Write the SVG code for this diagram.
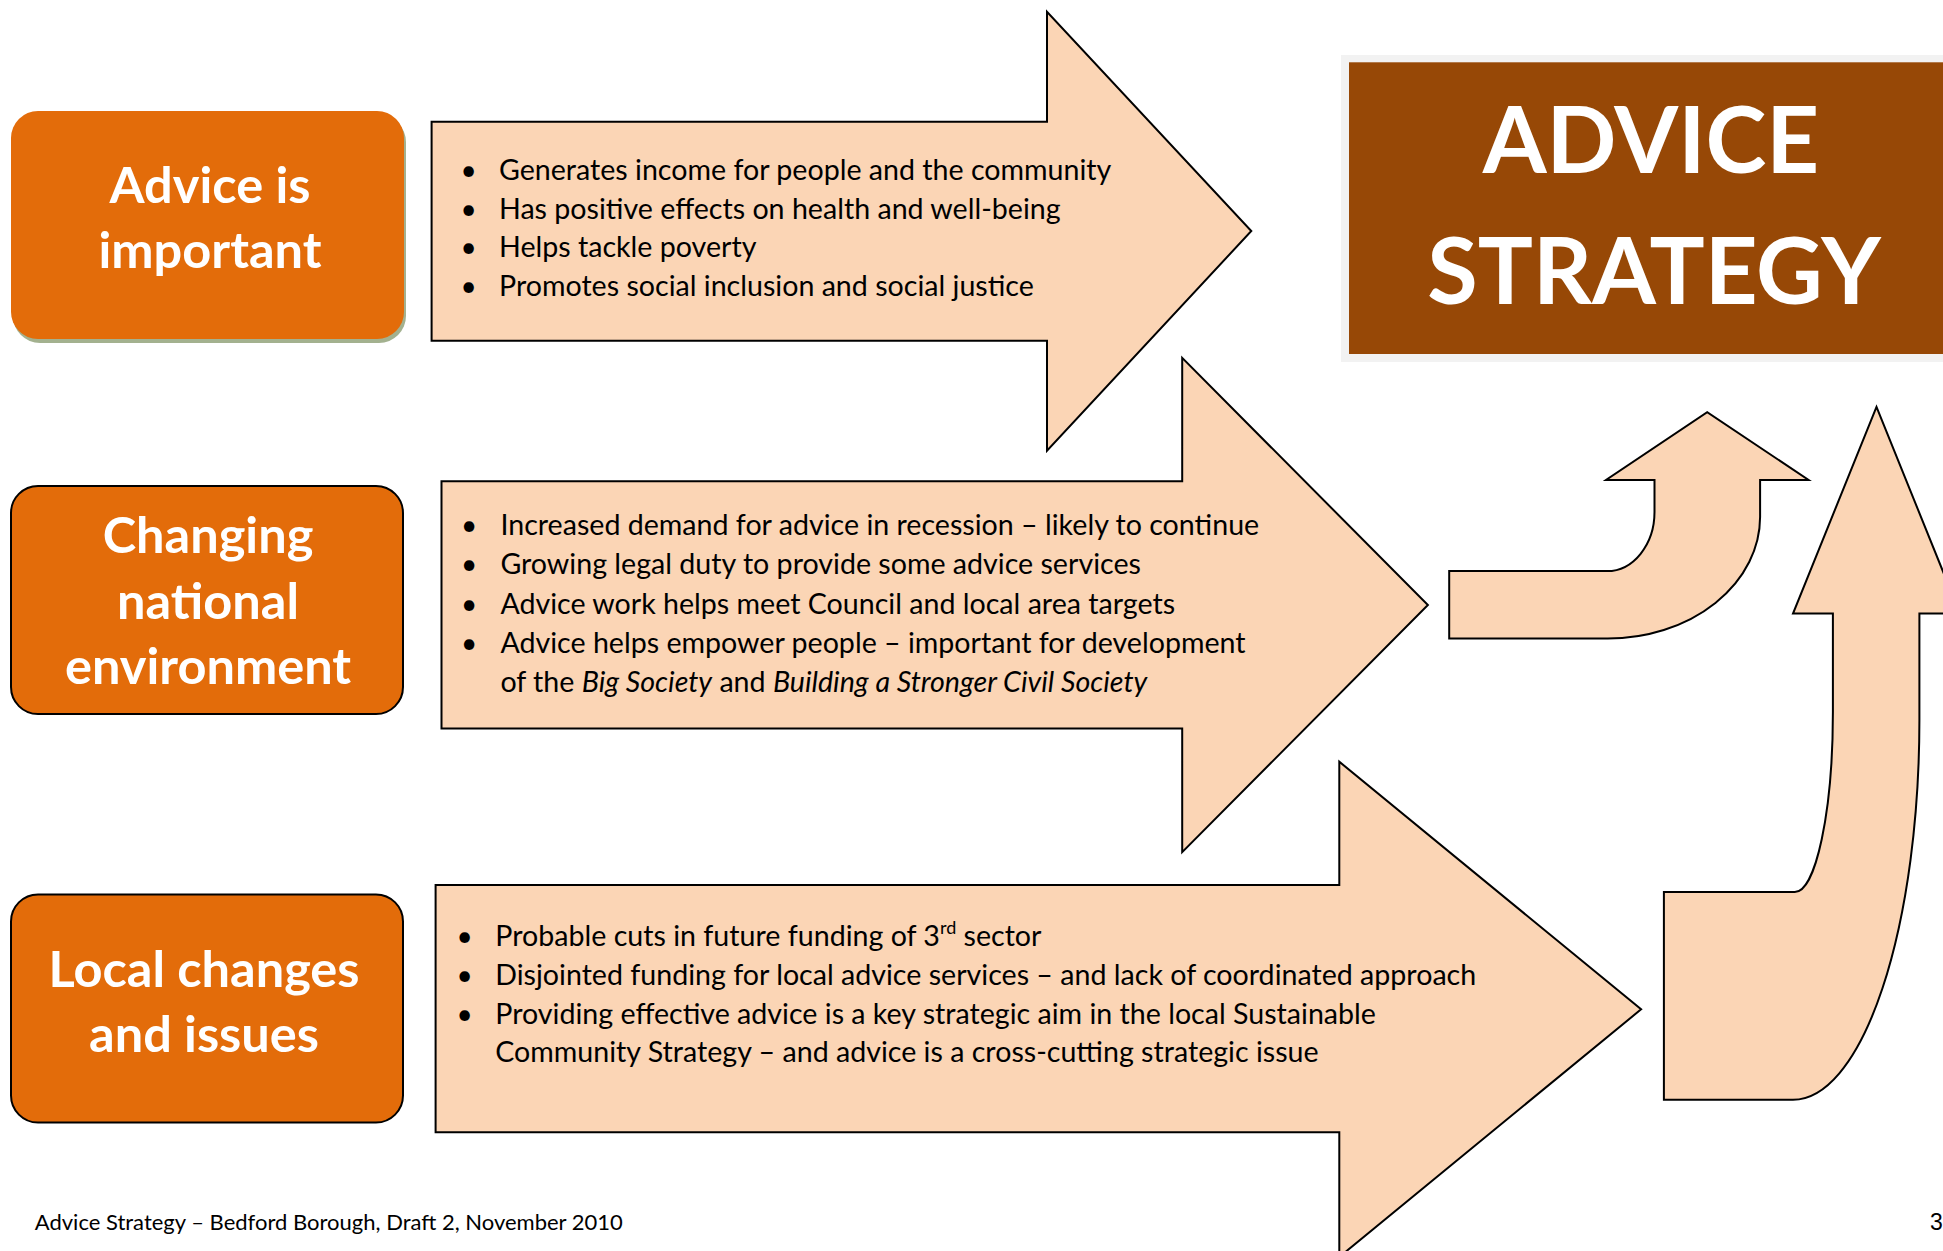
<svg xmlns="http://www.w3.org/2000/svg" width="1943" height="1251" viewBox="0 0 1943 1251">
  <style>
    .box { fill: #E36C0A; }
    .boxs { stroke: #000; stroke-width: 2; }
    .boxt { font-family: Lato, "Liberation Sans", sans-serif; font-weight: bold; font-size: 50.5px; fill: #fff; text-anchor: middle; }
    .arrow { fill: #FBD5B5; stroke: #000; stroke-width: 2; stroke-linejoin: miter; }
    .body { font-family: Lato, "Liberation Sans", sans-serif; font-size: 28.6px; fill: #000; }
    .bul { font-family: Lato, "Liberation Sans", sans-serif; font-size: 28px; fill: #000; text-anchor: middle; }
    .title { font-family: Lato, "Liberation Sans", sans-serif; font-weight: bold; font-size: 92px; fill: #fff; text-anchor: middle; }
    .foot { font-family: Lato, "Liberation Sans", sans-serif; font-size: 22px; fill: #000; }
  </style>
  <rect width="1943" height="1251" fill="#fff"/>

  <g id="connectors">
    <path id="arrow1" class="arrow" d="M431.6,121.7 H1047 V11.7 L1251.3,231 L1047,450.7 V340.7 H431.6 Z"/>
    <path id="arrow2" class="arrow" d="M441.5,481.2 H1182.2 V357.9 L1427.9,605 L1182.2,852.1 V728.5 H441.5 Z"/>
    <path id="arrow3" class="arrow" d="M435.6,885 H1339.3 V761.7 L1641.1,1009.3 L1339.3,1257 V1132.3 H435.6 Z"/>
    <path id="bent-small" class="arrow" d="M1449.2,571.1 H1607 A47.5,59 0 0 0 1654.5,512 V480 H1606 L1707.2,412.1 L1808.6,480 H1760.1 V517 A152.4,121.8 0 0 1 1607.8,638.6 H1449.2 Z"/>
    <path id="bent-large" class="arrow" d="M1663.9,892 H1794.8 A38.1,180 0 0 0 1832.9,712 V613.6 H1793 L1876.5,406.9 L1960,613.6 H1919.4 V720 A126.4,379.7 0 0 1 1793,1099.7 H1663.9 Z"/>
  </g>

  <g id="arrow1-text">
    <text class="bul" x="468.5" y="180">•</text>
    <text class="bul" x="468.5" y="218.7">•</text>
    <text class="bul" x="468.5" y="257.3">•</text>
    <text class="bul" x="468.5" y="296">•</text>
    <text class="body" x="499" y="180">Generates income for people and the community</text>
    <text class="body" x="499" y="218.7">Has positive effects on health and well-being</text>
    <text class="body" x="499" y="257.3">Helps tackle poverty</text>
    <text class="body" x="499" y="296">Promotes social inclusion and social justice</text>
  </g>

  <g id="arrow2-text">
    <text class="bul" x="469" y="534.6">•</text>
    <text class="bul" x="469" y="574">•</text>
    <text class="bul" x="469" y="613.5">•</text>
    <text class="bul" x="469" y="652.7">•</text>
    <text class="body" x="500.4" y="534.6">Increased demand for advice in recession – likely to continue</text>
    <text class="body" x="500.4" y="574">Growing legal duty to provide some advice services</text>
    <text class="body" x="500.4" y="613.5">Advice work helps meet Council and local area targets</text>
    <text class="body" x="500.4" y="652.7">Advice helps empower people – important for development</text>
    <text class="body" x="500.4" y="691.5">of the <tspan font-style="italic">Big Society</tspan> and <tspan font-style="italic">Building a Stronger Civil Society</tspan></text>
  </g>

  <g id="arrow3-text">
    <text class="bul" x="464.7" y="946">•</text>
    <text class="bul" x="464.7" y="985">•</text>
    <text class="bul" x="464.7" y="1024">•</text>
    <text class="body" x="495.3" y="946">Probable cuts in future funding of 3<tspan font-size="18" dy="-12">rd</tspan><tspan dy="12"> sector</tspan></text>
    <text class="body" x="495.3" y="985">Disjointed funding for local advice services – and lack of coordinated approach</text>
    <text class="body" x="495.3" y="1024">Providing effective advice is a key strategic aim in the local Sustainable</text>
    <text class="body" x="495.3" y="1062">Community Strategy – and advice is a cross-cutting strategic issue</text>
  </g>

  <g id="box1">
    <rect x="13" y="115" width="393" height="228" rx="27" fill="#A3B18F"/>
    <rect class="box" x="11" y="111" width="393" height="228" rx="27"/>
    <text class="boxt" x="210" y="203">Advice is</text>
    <text class="boxt" x="210" y="268">important</text>
  </g>

  <g id="box2">
    <rect class="box boxs" x="11" y="486" width="392" height="228" rx="27"/>
    <text class="boxt" x="208" y="553.3">Changing</text>
    <text class="boxt" x="208" y="619.3">national</text>
    <text class="boxt" x="208" y="684">environment</text>
  </g>

  <g id="box3">
    <rect class="box boxs" x="11" y="894.5" width="392" height="228" rx="27"/>
    <text class="boxt" x="204" y="986.7">Local changes</text>
    <text class="boxt" x="204" y="1051.7">and issues</text>
  </g>

  <g id="title">
    <rect x="1341" y="55" width="610" height="307" fill="#F2F2F2"/>
    <rect x="1349" y="62.3" width="600" height="291.7" fill="#974806"/>
    <text class="title" x="1651" y="173.3">ADVICE</text>
    <text class="title" x="1654" y="304">STRATEGY</text>
  </g>

  <g id="footer">
    <text class="foot" x="34.8" y="1230">Advice Strategy – Bedford Borough, Draft 2, November 2010</text>
    <text x="1930" y="1229.5" font-family="Liberation Sans, Arial, sans-serif" font-size="23px" fill="#000">3</text>
  </g>
</svg>
